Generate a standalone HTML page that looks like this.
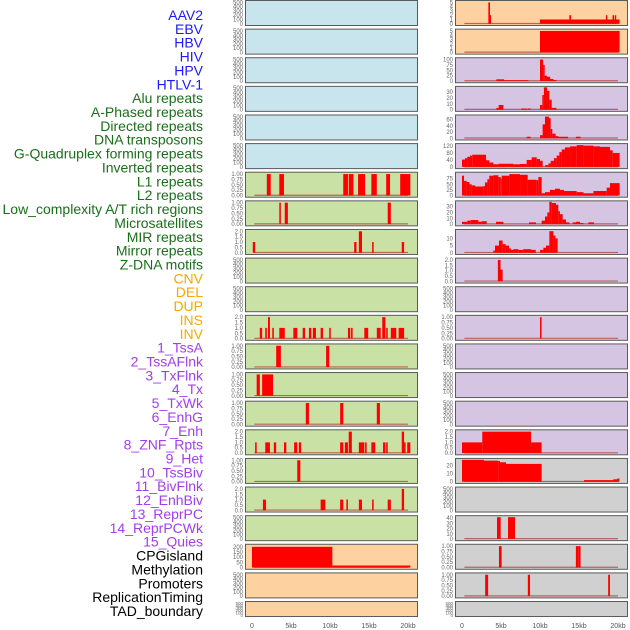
<!DOCTYPE html>
<html><head><meta charset="utf-8">
<style>
html,body{margin:0;padding:0;background:#fff;}
svg{display:block;font-family:"Liberation Sans",sans-serif;}
</style></head>
<body>
<svg id="chart" width="630" height="630" viewBox="0 0 630 630" xmlns="http://www.w3.org/2000/svg"></svg>
<script>
const trackLabels = ["AAV2","EBV","HBV","HIV","HPV","HTLV-1","Alu repeats","A-Phased repeats","Directed repeats","DNA transposons","G-Quadruplex forming repeats","Inverted repeats","L1 repeats","L2 repeats","Low_complexity A/T rich regions","Microsatellites","MIR repeats","Mirror repeats","Z-DNA motifs","CNV","DEL","DUP","INS","INV","1_TssA","2_TssAFlnk","3_TxFlnk","4_Tx","5_TxWk","6_EnhG","7_Enh","8_ZNF_Rpts","9_Het","10_TssBiv","11_BivFlnk","12_EnhBiv","13_ReprPC","14_ReprPCWk","15_Quies","CPGisland","Methylation","Promoters","ReplicationTiming","TAD_boundary"];
const labelGroups = [6,13,5,15,5];
const groupColors = ["#1a1aff","#187018","#ffa500","#a33df0","#000000"];
const xTicks = [0,5,10,15,20];
const xTickLabels = ["0","5kb","10kb","15kb","20kb"];
const tick500 = [0,100,200,300,400,500];
const tick1 = [0,0.25,0.5,0.75,1];
const tick2 = [0,0.5,1,1.5,2];
// left column panel backgrounds / data  (segments: [startKb, endKb, value])
const leftBg = ["#c8e4ec","#c8e4ec","#c8e4ec","#c8e4ec","#c8e4ec","#c8e4ec","#c9e1a4","#c9e1a4","#c9e1a4","#c9e1a4","#c9e1a4","#c9e1a4","#c9e1a4","#c9e1a4","#c9e1a4","#c9e1a4","#c9e1a4","#c9e1a4","#c9e1a4","#fdd1a0","#fdd1a0","#fdd1a0"];
const rightBg = ["#fdd1a0","#fdd1a0","#d6c5e2","#d6c5e2","#d6c5e2","#d6c5e2","#d6c5e2","#d6c5e2","#d6c5e2","#d6c5e2","#d6c5e2","#d6c5e2","#d6c5e2","#d6c5e2","#d6c5e2","#d6c5e2","#d0d0d0","#d0d0d0","#d0d0d0","#d0d0d0","#d0d0d0","#d0d0d0"];
const L7 = [[1.9,2.4,1],[3.5,4.1,1],[11.7,12.3,1],[12.4,13.0,1],[13.6,14.5,1],[15.3,16.0,1],[17.2,17.7,1],[19.0,20.3,1]];
const L8 = [[3.5,3.7,1],[4.2,4.6,1],[17.4,17.8,1]];
const L9 = [[0.1,0.4,1],[13.1,13.4,1],[13.7,14.1,2],[15.4,15.6,1],[19.2,19.5,1]];
const L12 = [[1.0,1.3,1],[1.7,1.9,1],[2.05,2.3,2],[2.6,2.8,1],[3.5,4.2,1],[5.3,5.8,1],[6.5,6.8,1],[7.3,7.6,1],[7.8,8.2,1],[8.8,9.1,1],[9.9,10.1,1],[12.3,12.6,1],[12.7,12.9,1],[14.4,14.9,1],[16.0,16.5,1],[16.7,17.1,2],[17.2,17.4,1],[17.8,18.5,1],[18.8,19.5,1]];
const L13 = [[3.1,3.7,1],[9.5,9.9,1]];
const L14 = [[0.6,1.0,1],[1.3,2.7,1]];
const L15 = [[6.9,7.3,1],[11.3,11.7,1],[16.0,16.4,1]];
const L16 = [[0.4,0.6,1],[1.7,2.3,1],[2.8,3.1,1],[4.1,4.4,1],[5.4,5.8,1],[6.0,6.3,1],[11.3,11.7,1],[11.9,12.3,1],[12.4,12.8,2],[13.7,14.4,1],[14.5,14.7,1],[15.3,15.8,1],[16.8,17.1,1],[17.2,17.4,1],[19.2,19.5,2],[19.5,19.7,1],[19.9,20.3,1]];
const L17 = [[5.8,6.2,1]];
const L18 = [[1.4,1.8,1],[8.8,9.4,1],[11.3,11.7,1],[12.1,12.3,1],[13.7,14.1,1],[15.4,15.6,1],[17.4,17.8,1],[19.2,19.5,2]];
const L20 = [[0,10.3,200],[10.3,20.3,20]];
// right column
const R1 = [[3.38,3.59,5],[3.59,3.72,2],[10.0,20.2,1],[13.76,13.97,2],[18.46,18.63,2],[19.3,19.5,2],[19.6,19.77,2]];
const R2 = [[10.0,20.2,5]];
const R3 = [[4.4,5.4,8],[5.4,8.5,4],[10.0,10.4,100],[10.4,10.6,75],[10.6,10.9,25],[10.9,11.3,20],[11.3,11.7,10],[11.7,12.1,5]];
const R4 = [[4.4,4.7,3],[4.7,5.3,8],[7.6,8.3,2],[8.4,8.8,2],[10.0,10.3,8],[10.3,10.5,25],[10.5,10.9,38],[10.9,11.2,32],[11.2,11.5,17],[11.5,12.1,3]];
const R5 = [[8.3,8.8,5],[10.0,10.34,10],[10.34,10.64,45],[10.64,11.15,70],[11.15,11.37,65],[11.37,11.58,30],[11.58,12.0,15],[12.0,12.35,7],[12.35,13.6,5],[14.6,15.2,5]];
const R6edges = [0,0.38,0.68,1.03,1.32,3.08,3.5,4.02,4.66,6.58,7.44,8.29,8.93,9.57,10.0,10.34,10.64,11.07,11.37,11.79,12.14,12.48,12.78,13.2,13.85,14.7,15.56,16.84,17.69,18.97,19.32,20.21];
const R6vals = [42,50,58,65,70,38,25,15,18,15,17,40,55,45,35,0,10,20,35,50,65,85,100,112,118,125,122,118,115,95,80];
const R7edges = [0,0.26,0.6,0.94,1.24,1.67,2.74,2.95,3.25,3.5,4.02,4.66,4.96,5.09,6.07,7.44,8.42,9.57,9.79,10.21,10.64,11.28,11.92,12.56,13.08,14.7,15.56,16.84,18.55,18.97,20.21];
const R7vals = [88,65,60,50,45,40,42,58,72,88,90,82,75,88,95,92,70,68,82,10,15,25,30,25,20,15,10,20,35,55];
const R8 = [[0,0.68,4],[0.68,1.11,6],[1.11,2.09,7],[2.09,2.52,4],[2.52,3.16,5],[4.36,5.3,4],[8.59,9.49,3],[10.21,10.64,6],[10.64,10.94,13],[10.94,11.2,20],[11.2,11.5,38],[11.5,12.05,36],[12.05,12.35,33],[12.35,12.56,22],[12.56,12.91,17],[12.91,13.33,8],[13.33,13.76,3],[14.19,14.61,3],[14.61,15.13,4],[15.13,15.56,2],[16.2,16.92,3]];
const R9 = [[4.02,4.23,1.5],[4.23,4.74,5],[4.74,5.21,8.5],[5.21,5.6,6],[5.6,6.03,5],[6.03,6.28,3],[6.28,6.58,2],[6.58,7.22,2.5],[7.22,7.86,2],[7.86,8.85,2.5],[8.85,9.45,2],[10.0,10.43,2],[10.43,10.77,3.5],[10.77,11.2,5],[11.2,11.71,15],[11.71,11.97,12],[11.97,12.26,10]];
const R10 = [[4.6,4.94,2],[4.94,5.21,1.1]];
const R12 = [[10.0,10.2,1]];
const R16 = [[0,2.6,1],[2.6,8.85,2],[8.85,10.2,1]];
const R17 = [[0,2.82,27],[2.82,4.66,26],[4.66,4.87,25.5],[4.87,5.64,24],[5.64,10.21,22],[15.64,19.4,2],[19.4,19.91,3],[19.91,20.17,4]];
const R19 = [[4.49,4.96,42],[5.9,6.8,42]];
const R20 = [[4.74,5.08,1],[14.6,14.9,1],[14.9,15.2,1]];
const R21 = [[2.97,3.35,1],[8.44,8.72,1],[18.74,18.97,1]];

function stepSegs(edges, vals){ const s=[]; for(let i=0;i<vals.length;i++) s.push([edges[i],edges[i+1],vals[i]]); return s; }
const E = null;
const leftPanels = [
 [E,520,tick500],[E,520,tick500],[E,520,tick500],[E,520,tick500],[E,520,tick500],[E,520,tick500],
 [L7,1.04,tick1],[L8,1.04,tick1],[L9,2.08,tick2],[E,520,tick500],[E,520,tick500],[L12,2.08,tick2],
 [L13,1.04,tick1],[L14,1.04,tick1],[L15,1.04,tick1],[L16,2.08,tick2],[L17,1.04,tick1],[L18,2.08,tick2],
 [E,520,tick500],[L20,215,[0,50,100,150,200]],[E,520,tick500],[E,520,tick500]
];
const rightPanels = [
 [R1,5.2,[0,1,2,3,4,5]],[R2,5.2,[0,1,2,3,4,5]],[R3,104,[0,25,50,75,100]],[R4,38,[0,10,20,30]],[R5,72,[0,20,40,60]],
 [stepSegs(R6edges,R6vals),128,[0,40,80,120]],[stepSegs(R7edges,R7vals),99,[0,25,50,75]],[R8,38,[0,10,20,30]],
 [R9,15.5,[0,5,10]],[R10,2.08,tick2],[E,520,tick500],[R12,1.04,tick1],[E,520,tick500],[E,520,tick500],[E,520,tick500],
 [R16,2.08,tick2],[R17,27.5,[0,10,20]],[E,520,tick500],[R19,43,[0,10,20,30,40]],[R20,1.04,tick1],[R21,1.04,tick1],[E,520,tick500]
];

const NS="http://www.w3.org/2000/svg";
const svg=document.getElementById('chart');
function mk(tag,attrs,parent){const e=document.createElementNS(NS,tag);for(const k in attrs)e.setAttribute(k,attrs[k]);(parent||svg).appendChild(e);return e;}

// labels
let idx=0;
labelGroups.forEach((n,g)=>{for(let i=0;i<n;i++){const t=mk('text',{x:203,y:15+idx*13.86+5,'text-anchor':'end','font-size':14,fill:groupColors[g]});t.textContent=trackLabels[idx];


idx++;}});

function fmt(v,ticks){const dec=ticks.some(t=>t%1!==0)?(ticks.includes(0.25)?2:1):0;return v.toFixed(dec);}
function drawColumn(panels,bgs,px,x0,col){
 panels.forEach((p,i)=>{
  const top=i*28.62, h=(i===21)?15:25, w=172;
  const g=mk('g',{});
  
  
  const r=mk('rect',{x:px+0.5,y:top+0.5,width:w,height:h,fill:bgs[i],stroke:'#5a5a5a','stroke-width':1},g);
  
  
  const yb=top+h-1.2, yt=top+1.5;
  const ymax=p[1];
  const yS=v=>yb-(v/ymax)*(yb-yt);
  const xS=k=>x0+k*7.8;
  p[2].forEach(t=>{const tl=mk('text',{x:px-2,y:yS(t)+2,'text-anchor':'end','font-size':(i===21?4.5:6),fill:'#666'},g);tl.textContent=fmt(t,p[2]);
   
   });
  if(p[0]){
   const bl=mk('line',{x1:xS(0.3),x2:xS(20),y1:yb-0.3,y2:yb-0.3,stroke:'#b03030','stroke-opacity':0.7,'stroke-width':1.2},g);
   
   
   p[0].forEach(s=>{const b=mk('rect',{x:xS(s[0]),y:yS(s[2]),width:Math.max(1,xS(s[1])-xS(s[0])),height:yb-yS(s[2]),fill:'#ff0000'},g);
    
    });
  }
 });
 xTicks.forEach((k,j)=>{const t=mk('text',{x:x0+k*7.8,y:628,'text-anchor':'middle','font-size':7,fill:'#555'});t.textContent=xTickLabels[j];
  
  });
}
drawColumn(leftPanels,leftBg,245,252,'left');
drawColumn(rightPanels,rightBg,455,462,'right');
</script>
</body></html>
